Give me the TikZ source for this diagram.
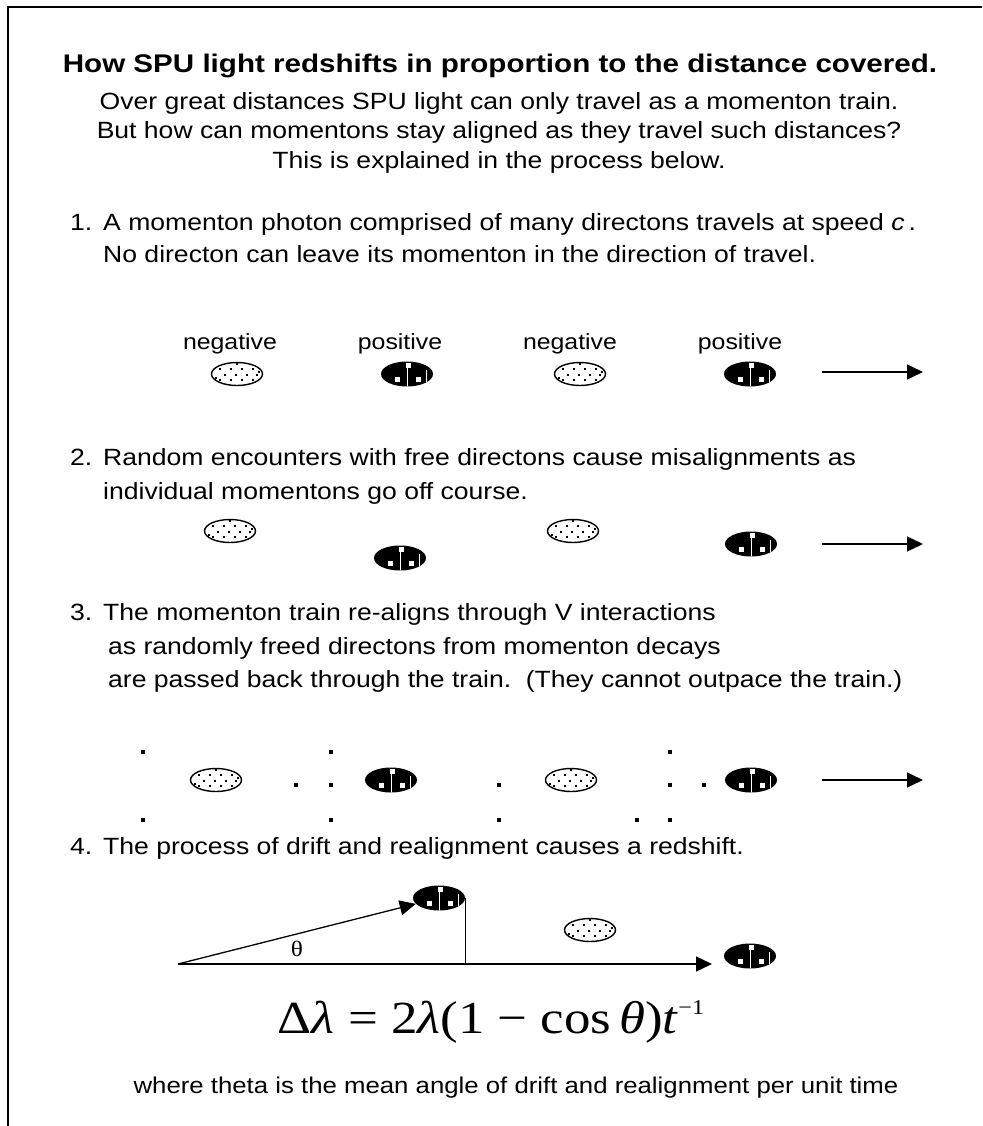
\documentclass[tikz,border=0pt]{standalone}
\usepackage{fontspec}
\setmainfont{Liberation Sans}[FakeStretch=1.13]
\newfontfamily\headfam{Liberation Sans}[FakeStretch=1.16]
\newfontfamily\eqfont{Liberation Serif}[FakeStretch=1.15]
\usetikzlibrary{arrows.meta,shapes.geometric}

\newcommand\bodyfont{\fontsize{23.5}{28}\selectfont}
\newcommand\lblfont{\fontsize{22}{26}\selectfont}
\newcommand\headfont{\headfam\fontsize{25.5}{30}\selectfont\bfseries}

\begin{document}
\begin{tikzpicture}[x=1pt,y=-1pt,
  txt/.style={font=\bodyfont,anchor=base west,inner sep=0pt},
  ctr/.style={font=\bodyfont,anchor=base,inner sep=0pt},
  lbl/.style={font=\lblfont,anchor=base,inner sep=0pt},
  negmom/.style={ellipse,draw,line width=1.4pt,fill=white,minimum width=51pt,
    minimum height=23pt,inner sep=0pt,
    path picture={\foreach \dx/\dy in {0/-10,-17/-5,-6/-5,5/-5,16/-5,-12/1,-1/1,10/1,20/1,
        -17/6,-6/6,5/6,16/6,-21/4,22/-2}
      \fill[black,shift={(path picture bounding box.center)}] (\dx-1.2,\dy-1.2) rectangle ++(2.4,2.4);}},
  posmom/.style={ellipse,fill=black,minimum width=52pt,minimum height=25pt,inner sep=0pt,
    path picture={\begin{scope}[shift={(path picture bounding box.center)}]
      \fill[white] (-1.5,-11) rectangle ++(5,5);
      \fill[white] (-12.5,2.5) rectangle ++(5,5);
      \fill[white] (8.5,2.5) rectangle ++(5,5);
      \draw[white,line width=0.7pt] (0,-6.5) -- (0,13);
      \draw[white,line width=0.7pt] (19,-4) -- (19,10);
    \end{scope}}},
  arr/.style={-{Triangle[length=16pt,width=15pt]},line width=1.3pt},
  dot/.style={fill=black}]
\useasboundingbox (0,0) rectangle (982,1126);
\draw[line width=1.5pt] (8,1126) -- (8,7) -- (982,7);
% heading
\node[font=\headfont,anchor=base,inner sep=0pt] (title) at (500,73)
  {How SPU light redshifts in proportion to the distance covered.};
\node[ctr] (intro1) at (499,110) {Over great distances SPU light can only travel as a momenton train.};
\node[ctr] (intro2) at (499,139) {But how can momentons stay aligned as they travel such distances?};
\node[ctr] (intro3) at (499,168) {This is explained in the process below.};
% step 1
\node[txt] (n1) at (70,230) {1.};
\node[txt] (s1a) at (103,230) {A momenton photon comprised of many directons travels at speed \textit{c}\,.};
\node[txt] (s1b) at (103,262) {No directon can leave its momenton in the direction of travel.};
\node[lbl] (l1) at (230,349) {negative};
\node[lbl] (l2) at (400,349) {positive};
\node[lbl] (l3) at (570,349) {negative};
\node[lbl] (l4) at (740,349) {positive};
\node[negmom] (r1a) at (237,374) {};
\node[posmom] (r1b) at (407,374) {};
\node[negmom] (r1c) at (580,374) {};
\node[posmom] (r1d) at (750,374) {};
\coordinate (r1s) at (822,372);
\coordinate (r1e) at (923,372);
\draw[arr] (r1s) -- (r1e);
% step 2
\node[txt] (n2) at (70,465) {2.};
\node[txt] (s2a) at (103,465) {Random encounters with free directons cause misalignments as};
\node[txt] (s2b) at (103,499) {individual momentons go off course.};
\node[negmom] (r2a) at (230,531) {};
\node[posmom] (r2b) at (400,558) {};
\node[negmom] (r2c) at (573,531) {};
\node[posmom] (r2d) at (751,544) {};
\coordinate (r2s) at (822,544);
\coordinate (r2e) at (923,544);
\draw[arr] (r2s) -- (r2e);
% step 3
\node[txt] (n3) at (70,620) {3.};
\node[txt] (s3a) at (103,620) {The momenton train re-aligns through V interactions};
\node[txt] (s3b) at (108,654) {as randomly freed directons from momenton decays};
\node[txt] (s3c) at (108,687) {are passed back through the train.\ \ (They cannot outpace the train.)};
\foreach \px/\py in {143/752,331/752,670/752,296/785,331/785,499/785,670/785,704/785,
    143/820,331/820,499/820,637/820,670/820}
  \fill[dot] (\px-1.6,\py-1.6) rectangle ++(3.2,3.2);
\node[negmom] (r3a) at (216,780) {};
\node[posmom] (r3b) at (391,780) {};
\node[negmom] (r3c) at (571,780) {};
\node[posmom] (r3d) at (751,780) {};
\coordinate (r3s) at (822,780);
\coordinate (r3e) at (923,780);
\draw[arr] (r3s) -- (r3e);
% step 4
\node[txt] (n4) at (70,854) {4.};
\node[txt] (s4a) at (103,854) {The process of drift and realignment causes a redshift.};
\node[posmom] (tp) at (439,898) {};
\node[negmom] (mn) at (590,930) {};
\node[posmom] (rp) at (750,956) {};
\coordinate (o) at (178,964);
\coordinate (tip) at (712,964);
\draw[arr] (o) -- (tp);
\draw[arr] (o) -- (tip);
\draw[line width=1.3pt] (tp.east) -- (tp.east |- o);
\node[font=\eqfont\fontsize{22}{24}\selectfont,inner sep=0pt] (th) at (297,949) {θ};
\node[font=\eqfont\fontsize{46}{52}\selectfont,inner sep=0pt] (eq) at (491,1022)
  {Δ\textit{λ} = 2\textit{λ}(1 − cos\,\textit{θ})\textit{t}\raisebox{0.42em}{\fontsize{21}{24}\selectfont −1}};
\node[font=\fontsize{22.8}{27}\selectfont,anchor=base,inner sep=0pt] (note) at (516,1093)
  {where theta is the mean angle of drift and realignment per unit time};
\end{tikzpicture}
\end{document}
